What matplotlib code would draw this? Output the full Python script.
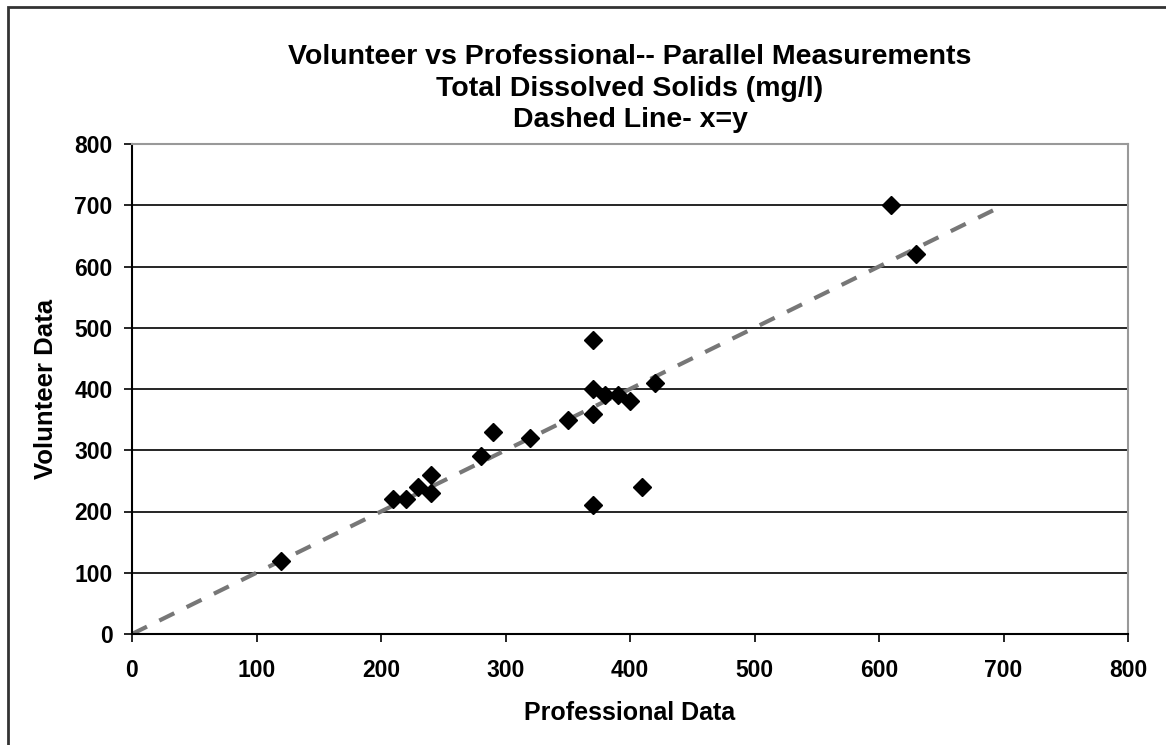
import matplotlib
matplotlib.use('Agg')
import matplotlib.pyplot as plt
from matplotlib.patches import Rectangle

plt.rcParams['font.family'] = ['Liberation Sans', 'DejaVu Sans']
plt.rcParams['font.weight'] = 'bold'

# readings
professional = [120, 210, 220, 230, 240, 240, 280, 290, 320, 350, 370,
                370, 370, 370, 380, 390, 400, 410, 420, 610, 630]
volunteer = [120, 220, 220, 240, 260, 230, 290, 330, 320, 350, 480,
             400, 360, 210, 390, 390, 380, 240, 410, 700, 620]
line_x = [0, 700]
line_y = [0, 700]
ticks = [0, 100, 200, 300, 400, 500, 600, 700, 800]

title = ('Volunteer vs Professional-- Parallel Measurements\n'
         'Total Dissolved Solids (mg/l)\n'
         'Dashed Line- x=y')

fig = plt.figure(figsize=(11.66, 7.45), dpi=100)
ax = fig.add_axes([132 / 1166, 1 - 634 / 745, 996 / 1166, 490 / 745])

ax.plot(line_x, line_y, color='#777777', lw=3, dashes=(4, 3.3), zorder=2)
ax.plot(professional, volunteer, 'D', color='black', markersize=9.5, zorder=3)

ax.set_xlim(0, 800)
ax.set_ylim(0, 800)
ax.set_xticks(ticks)
ax.set_yticks(ticks)
ax.tick_params(direction='out', length=6, width=1.2, labelsize=16.5, pad=8)
ax.tick_params(axis='x', pad=12)
ax.yaxis.grid(True, color='black', lw=1.2)
ax.set_axisbelow(True)
for s in ['left', 'bottom']:
    ax.spines[s].set_color('black')
    ax.spines[s].set_linewidth(1.5)
for s in ['top', 'right']:
    ax.spines[s].set_color('#999999')
    ax.spines[s].set_linewidth(1.5)

ax.set_xlabel('Professional Data', fontsize=18, fontweight='bold', labelpad=14)
ax.set_ylabel('Volunteer Data', fontsize=18.5, fontweight='bold', labelpad=12)
ax.set_title(title, fontsize=20.5, fontweight='bold', linespacing=1.28, pad=12)

fig.patches.append(Rectangle((8 / 1166, -0.05), 2, 1 - 7 / 745 + 0.05,
                             transform=fig.transFigure, fill=False,
                             edgecolor='#333333', lw=2))

fig.savefig('out.png', dpi=100)
